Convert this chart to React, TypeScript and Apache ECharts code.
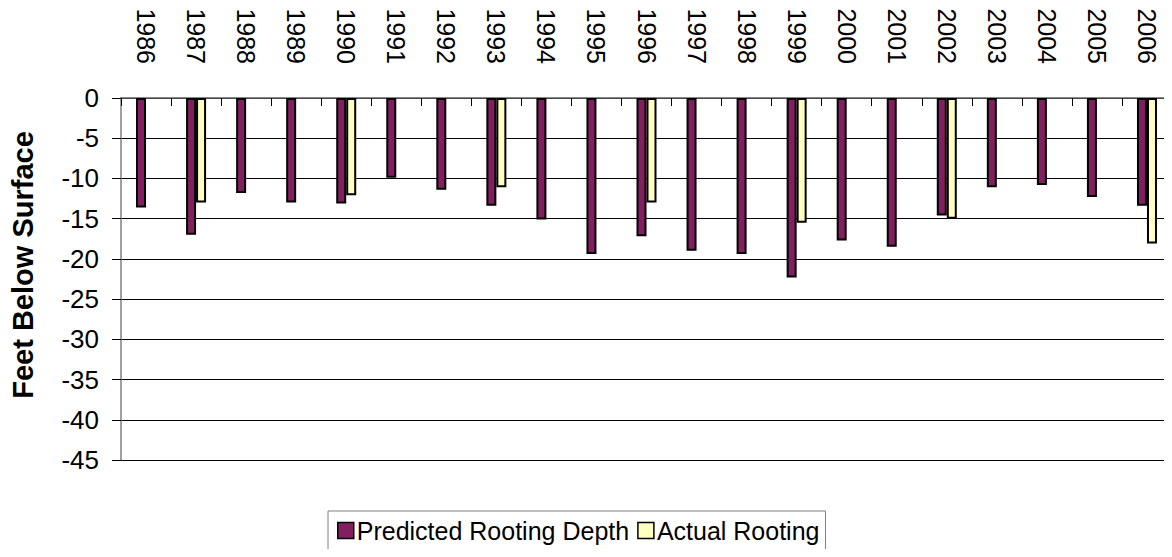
import React, { useEffect, useRef } from "react";
import * as echarts from "echarts";

const years = ["1986","1987","1988","1989","1990","1991","1992","1993","1994","1995","1996","1997","1998","1999","2000","2001","2002","2003","2004","2005","2006"];
const predicted = [-13.6,-17.0,-11.8,-13.0,-13.1,-9.9,-11.4,-13.4,-15.1,-19.4,-17.2,-19.0,-19.4,-22.3,-17.7,-18.5,-14.6,-11.1,-10.8,-12.3,-13.4];
const actual = [null,-13.0,null,null,-12.1,null,null,-11.1,null,null,-13.0,null,null,-15.5,null,null,-15.0,null,null,null,-18.1];

const FONT = "Liberation Sans, Arial, sans-serif";

export default function App() {
  const ref = useRef<HTMLDivElement>(null);
  useEffect(() => {
    if (!ref.current) return;
    const chart = echarts.init(ref.current, null, { renderer: "svg" });
    chart.setOption({
      animation: false,
      backgroundColor: "#ffffff",
      textStyle: { fontFamily: FONT },
      grid: { left: 120, top: 98, height: 362, right: -7 },
      xAxis: {
        type: "category",
        data: years,
        position: "top",
        axisLine: { onZero: false, lineStyle: { color: "#606060", width: 1.5 } },
        axisTick: { show: true, inside: true, length: 8, lineStyle: { color: "#000" } },
        axisLabel: { rotate: 90, fontSize: 25, color: "#000", margin: 34, fontFamily: FONT },
        splitLine: { show: false },
      },
      yAxis: {
        type: "value",
        min: -45,
        max: 0,
        interval: 5,
        name: "Feet Below Surface",
        nameLocation: "middle",
        nameRotate: 90,
        nameGap: 84,
        nameTextStyle: { fontSize: 29, fontWeight: "bold", color: "#000", fontFamily: FONT, padding: [0, 0, 0, 28] },
        axisLine: { show: true, lineStyle: { color: "#808080", width: 1.5 } },
        axisTick: { show: true, length: 9, lineStyle: { color: "#000" } },
        axisLabel: { fontSize: 26, color: "#000", margin: 22, fontFamily: FONT },
        splitLine: { show: true, lineStyle: { color: "#000", width: 1 } },
      },
      legend: {
        data: ["Predicted Rooting Depth", "Actual Rooting"],
        left: 328,
        top: 511,
        icon: "path://M0,0H10V10H0Z",
        itemWidth: 16,
        itemHeight: 16,
        itemGap: 8,
        padding: [7, 6, 14, 9],
        borderColor: "#808080",
        borderWidth: 1,
        itemStyle: { borderWidth: 1.5, borderColor: "#000" },
        textStyle: { fontSize: 25, color: "#000", fontFamily: FONT, padding: [0, 0, 0, -2] },
      },
      series: [
        {
          name: "Predicted Rooting Depth",
          type: "bar",
          data: predicted,
          barWidth: 10,
          barGap: "0%",
          itemStyle: { color: "#821F60", borderColor: "#000", borderWidth: 2 },
        },
        {
          name: "Actual Rooting",
          type: "bar",
          data: actual,
          barWidth: 10,
          barGap: "0%",
          itemStyle: { color: "#FFFFC0", borderColor: "#000", borderWidth: 2 },
        },
      ],
    });
    return () => chart.dispose();
  }, []);
  return <div ref={ref} style={{ width: 1172, height: 557, margin: -8 }} />;
}
